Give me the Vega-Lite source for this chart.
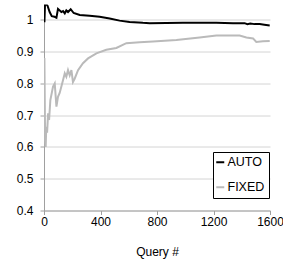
{
  "$schema": "https://vega.github.io/schema/vega-lite/v6.json",
  "width": 226,
  "height": 206,
  "autosize": "none",
  "padding": {"left": 44, "top": 4.5, "right": 13, "bottom": 54.5},
  "background": "white",
  "config": {
    "view": {"stroke": null},
    "font": "Liberation Sans",
    "axis": {
      "labelFont": "Liberation Sans",
      "labelFontSize": 12,
      "labelColor": "#000000",
      "titleFont": "Liberation Sans",
      "titleFontSize": 12,
      "titleFontWeight": "normal",
      "titleColor": "#000000",
      "domainColor": "#a0a0a0",
      "tickColor": "#a0a0a0",
      "tickSize": 4
    }
  },
  "data": {
    "values": [
      {"q": 3, "v": 0.993, "s": "AUTO"},
      {"q": 8, "v": 1.06, "s": "AUTO"},
      {"q": 15, "v": 1.05, "s": "AUTO"},
      {"q": 25, "v": 1.045, "s": "AUTO"},
      {"q": 40, "v": 1.025, "s": "AUTO"},
      {"q": 55, "v": 1.012, "s": "AUTO"},
      {"q": 75, "v": 1.01, "s": "AUTO"},
      {"q": 88, "v": 1.007, "s": "AUTO"},
      {"q": 99, "v": 1.035, "s": "AUTO"},
      {"q": 123, "v": 1.025, "s": "AUTO"},
      {"q": 135, "v": 1.028, "s": "AUTO"},
      {"q": 147, "v": 1.021, "s": "AUTO"},
      {"q": 158, "v": 1.03, "s": "AUTO"},
      {"q": 170, "v": 1.025, "s": "AUTO"},
      {"q": 189, "v": 1.034, "s": "AUTO"},
      {"q": 210, "v": 1.022, "s": "AUTO"},
      {"q": 253, "v": 1.016, "s": "AUTO"},
      {"q": 323, "v": 1.013, "s": "AUTO"},
      {"q": 394, "v": 1.01, "s": "AUTO"},
      {"q": 465, "v": 1.005, "s": "AUTO"},
      {"q": 535, "v": 0.998, "s": "AUTO"},
      {"q": 606, "v": 0.994, "s": "AUTO"},
      {"q": 700, "v": 0.991, "s": "AUTO"},
      {"q": 748, "v": 0.99, "s": "AUTO"},
      {"q": 984, "v": 0.991, "s": "AUTO"},
      {"q": 1220, "v": 0.991, "s": "AUTO"},
      {"q": 1338, "v": 0.99, "s": "AUTO"},
      {"q": 1420, "v": 0.99, "s": "AUTO"},
      {"q": 1440, "v": 0.987, "s": "AUTO"},
      {"q": 1460, "v": 0.989, "s": "AUTO"},
      {"q": 1490, "v": 0.987, "s": "AUTO"},
      {"q": 1527, "v": 0.987, "s": "AUTO"},
      {"q": 1560, "v": 0.985, "s": "AUTO"},
      {"q": 1598, "v": 0.983, "s": "AUTO"},
      {"q": 3, "v": 0.88, "s": "FIXED"},
      {"q": 8, "v": 0.62, "s": "FIXED"},
      {"q": 12, "v": 0.6, "s": "FIXED"},
      {"q": 16, "v": 0.664, "s": "FIXED"},
      {"q": 22, "v": 0.645, "s": "FIXED"},
      {"q": 29, "v": 0.706, "s": "FIXED"},
      {"q": 36, "v": 0.685, "s": "FIXED"},
      {"q": 45, "v": 0.748, "s": "FIXED"},
      {"q": 64, "v": 0.79, "s": "FIXED"},
      {"q": 76, "v": 0.8, "s": "FIXED"},
      {"q": 88, "v": 0.727, "s": "FIXED"},
      {"q": 99, "v": 0.758, "s": "FIXED"},
      {"q": 111, "v": 0.77, "s": "FIXED"},
      {"q": 135, "v": 0.811, "s": "FIXED"},
      {"q": 147, "v": 0.832, "s": "FIXED"},
      {"q": 158, "v": 0.821, "s": "FIXED"},
      {"q": 170, "v": 0.842, "s": "FIXED"},
      {"q": 182, "v": 0.826, "s": "FIXED"},
      {"q": 194, "v": 0.842, "s": "FIXED"},
      {"q": 205, "v": 0.805, "s": "FIXED"},
      {"q": 217, "v": 0.815, "s": "FIXED"},
      {"q": 241, "v": 0.842, "s": "FIXED"},
      {"q": 276, "v": 0.864, "s": "FIXED"},
      {"q": 312, "v": 0.879, "s": "FIXED"},
      {"q": 371, "v": 0.895, "s": "FIXED"},
      {"q": 441, "v": 0.906, "s": "FIXED"},
      {"q": 512, "v": 0.912, "s": "FIXED"},
      {"q": 583, "v": 0.927, "s": "FIXED"},
      {"q": 677, "v": 0.93, "s": "FIXED"},
      {"q": 772, "v": 0.932, "s": "FIXED"},
      {"q": 937, "v": 0.937, "s": "FIXED"},
      {"q": 1102, "v": 0.945, "s": "FIXED"},
      {"q": 1220, "v": 0.951, "s": "FIXED"},
      {"q": 1385, "v": 0.951, "s": "FIXED"},
      {"q": 1433, "v": 0.945, "s": "FIXED"},
      {"q": 1480, "v": 0.942, "s": "FIXED"},
      {"q": 1503, "v": 0.931, "s": "FIXED"},
      {"q": 1550, "v": 0.933, "s": "FIXED"},
      {"q": 1598, "v": 0.934, "s": "FIXED"}
    ]
  },
  "mark": {"type": "line", "strokeWidth": 2, "clip": true},
  "encoding": {
    "x": {
      "field": "q",
      "type": "quantitative",
      "scale": {"domain": [0, 1600], "nice": false, "zero": false},
      "axis": {
        "values": [0, 400, 800, 1200, 1600],
        "format": "d",
        "grid": false,
        "title": "Query #",
        "labelPadding": 2,
        "titlePadding": 19,
        "labelFlush": false,
        "labelOverlap": false
      }
    },
    "y": {
      "field": "v",
      "type": "quantitative",
      "scale": {"domain": [0.4, 1.0488], "nice": false, "zero": false},
      "axis": {
        "values": [0.4, 0.5, 0.6, 0.7, 0.8, 0.9, 1.0],
        "format": ".1~f",
        "grid": true,
        "gridColor": "#d4d4d4",
        "title": null,
        "labelPadding": 7,
        "labelFlush": false,
        "labelOverlap": false
      }
    },
    "color": {
      "field": "s",
      "type": "nominal",
      "scale": {"domain": ["AUTO", "FIXED"], "range": ["#000000", "#bababa"]},
      "legend": {
        "title": null,
        "orient": "none",
        "legendX": 169,
        "legendY": 147.5,
        "strokeColor": "#000000",
        "fillColor": "#ffffff",
        "padding": 4,
        "symbolType": "stroke",
        "symbolSize": 64,
        "symbolStrokeWidth": 2,
        "symbolOffset": -3,
        "labelOffset": 1,
        "labelFont": "Liberation Sans",
        "labelFontSize": 12.5,
        "labelColor": "#000000",
        "rowPadding": 12
      }
    }
  }
}
